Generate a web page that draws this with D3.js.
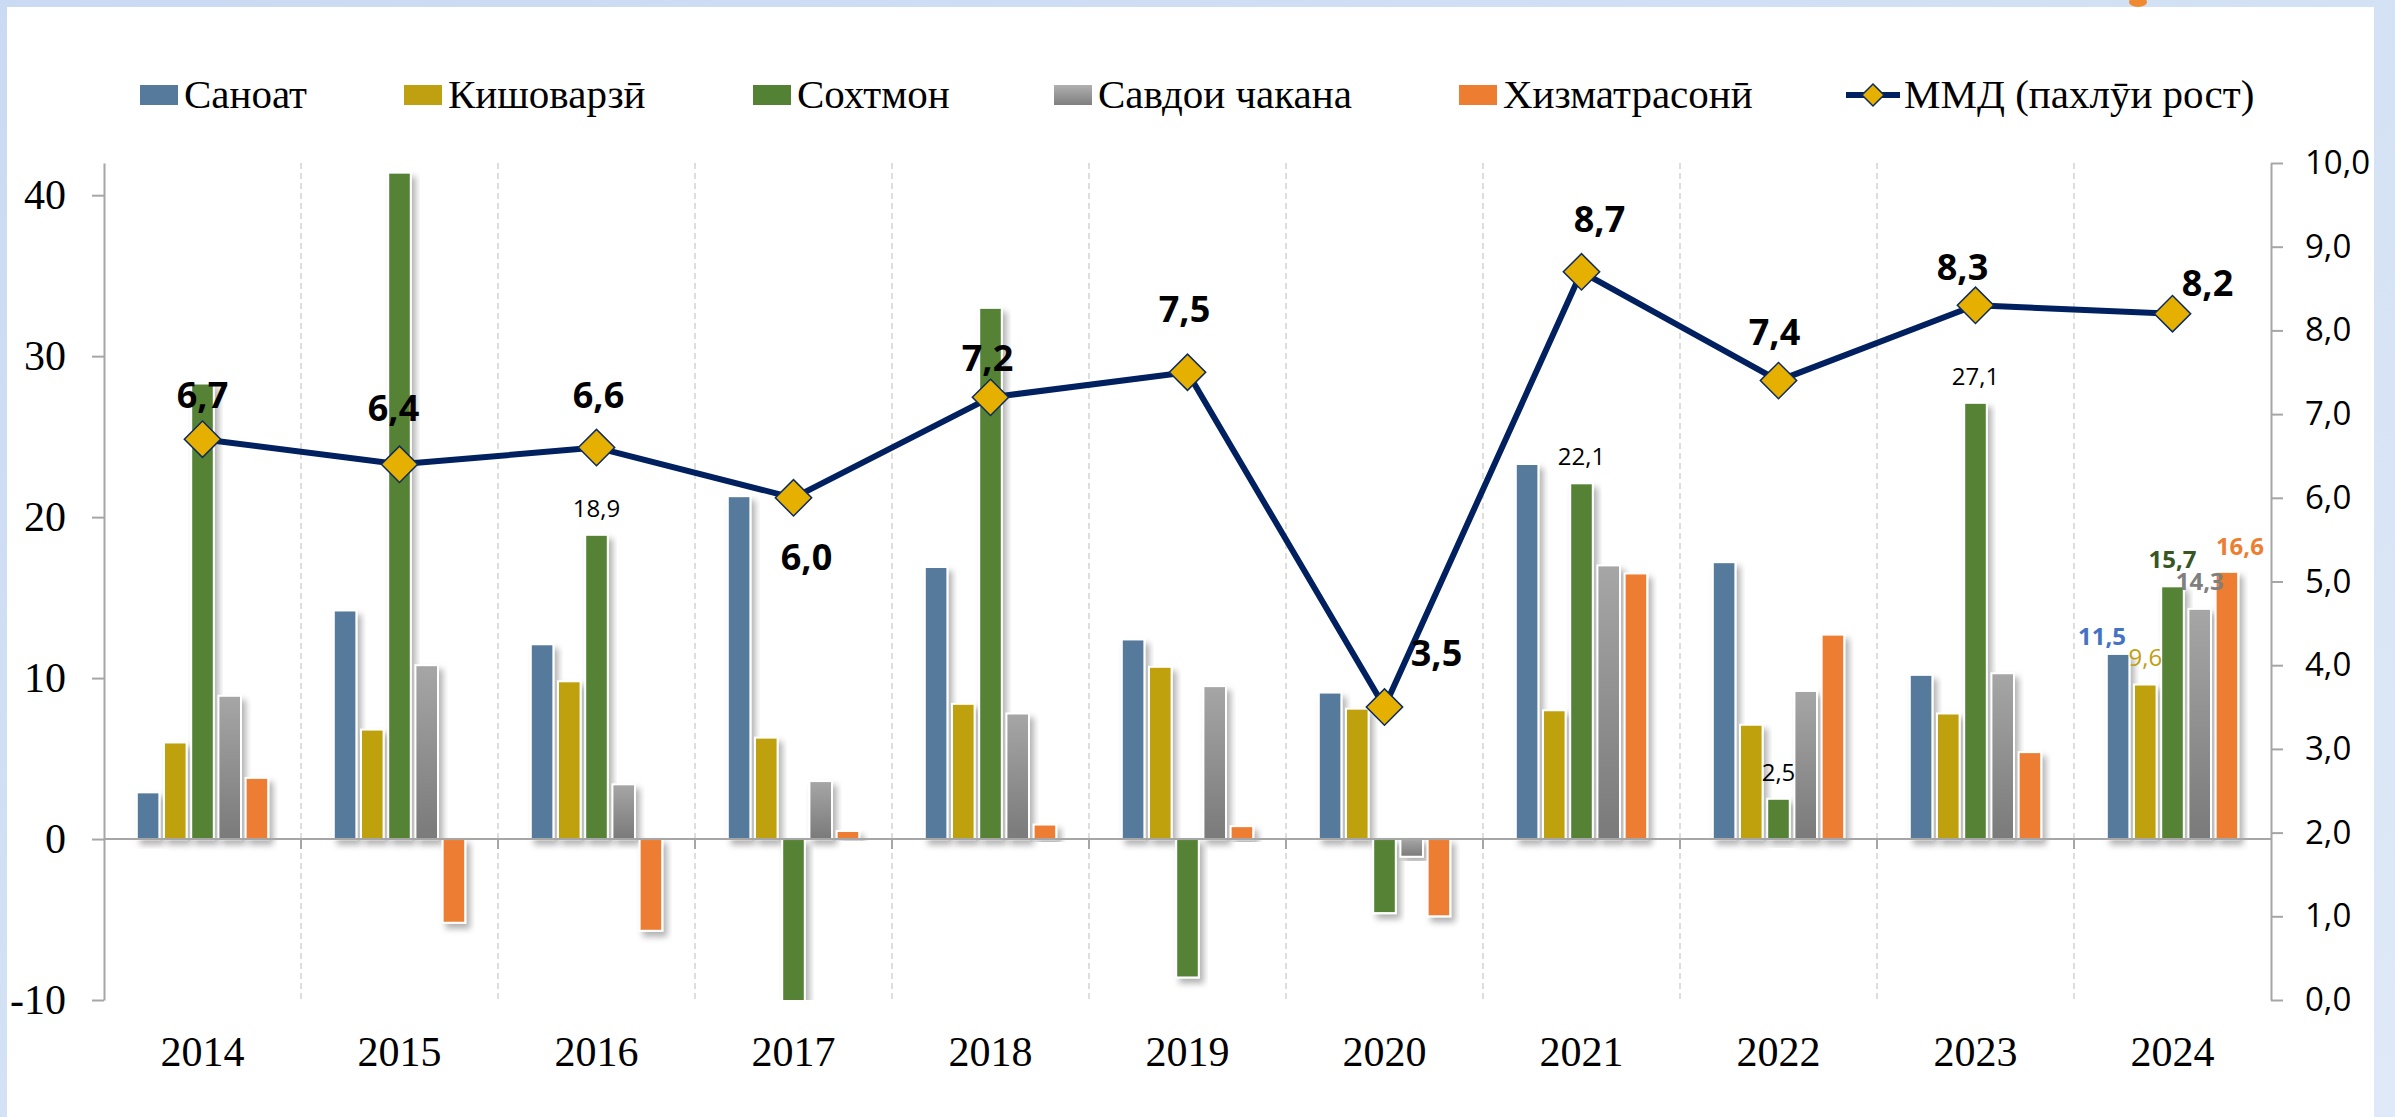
<!DOCTYPE html>
<html>
<head>
<meta charset="utf-8">
<script src="https://cdn.jsdelivr.net/npm/d3@7"></script>
<style>
  body { margin: 0; background: #fff; overflow: hidden; }
</style>
</head>
<body>
<svg id="chart" width="2395" height="1117"></svg>
<script>
// ---- data ----
let years = ["2014", "2015", "2016", "2017", "2018", "2019", "2020", "2021", "2022", "2023", "2024"];
let sanoat     = [2.9, 14.2, 12.1, 21.3, 16.9, 12.4, 9.1, 23.3, 17.2, 10.2, 11.5];
let kishovarzi = [6.0, 6.8, 9.8, 6.3, 8.4, 10.7, 8.1, 8.0, 7.1, 7.8, 9.6];
let sokhtmon   = [28.3, 41.4, 18.9, -10.2, 33.0, -8.6, -4.6, 22.1, 2.5, 27.1, 15.7];
let savdo      = [8.9, 10.8, 3.4, 3.6, 7.8, 9.5, -1.1, 17.0, 9.2, 10.3, 14.3];
let khizmat    = [3.8, -5.2, -5.7, 0.5, 0.9, 0.8, -4.8, 16.5, 12.7, 5.4, 16.6];
let mmd        = [6.7, 6.4, 6.6, 6.0, 7.2, 7.5, 3.5, 8.7, 7.4, 8.3, 8.2];

let seriesNames = ["Саноат", "Кишоварзӣ", "Сохтмон", "Савдои чакана", "Хизматрасонӣ"];
let lineName = "ММД (пахлӯи рост)";
let leftTicks = [-10, 0, 10, 20, 30, 40];
let rightTicks = [0, 1, 2, 3, 4, 5, 6, 7, 8, 9, 10];

// ---- styling / layout ----
let seriesValues = [sanoat, kishovarzi, sokhtmon, savdo, khizmat];
let seriesColors = ["#557a9b", "#bfa010", "#548235", "url(#grayGrad)", "#ed7d31"];
let legendColors = ["#557a9b", "#bfa010", "#548235", "url(#grayGradL)", "#ed7d31"];
let legendTextX = [184, 448, 797, 1098, 1503, 1904];

// manual label nudges (dx, dy from marker centre / baseline)
let mmdLabelDx = [0, -6, 2, 13, -3, -3, 52, 18, -4, -13, 35];
let mmdLabelDy = [-31, -43, -40, 72, -26, -50, -41, -40, -36, -25, -18];

// which bar labels are shown
let barLabels = [
  { s: 2, i: 2, color: "#000", weight: 400, dx: 0, dy: -18 },
  { s: 2, i: 7, color: "#000", weight: 400, dx: 0, dy: -18 },
  { s: 2, i: 8, color: "#000", weight: 400, dx: 0, dy: -18 },
  { s: 2, i: 9, color: "#000", weight: 400, dx: 0, dy: -18 },
  { s: 0, i: 10, color: "#4472c4", weight: 700, dx: -16, dy: -9 },
  { s: 1, i: 10, color: "#bfa010", weight: 400, dx: 0, dy: -19 },
  { s: 2, i: 10, color: "#375623", weight: 700, dx: 0, dy: -18 },
  { s: 3, i: 10, color: "#7f7f7f", weight: 700, dx: 0, dy: -19 },
  { s: 4, i: 10, color: "#ed7d31", weight: 700, dx: 13, dy: -17 }
];

let plot = { left: 104, right: 2271, top: 163, bottom: 1000 };
let serif = "'Times New Roman', 'Liberation Serif', serif";
let sans = "'Open Sans', 'Noto Sans', sans-serif";

let svg = d3.select("#chart");
let defs = svg.append("defs");

let bg = defs.append("linearGradient").attr("id", "bgGrad")
  .attr("x1", 0).attr("y1", 0).attr("x2", 1).attr("y2", 1);
bg.append("stop").attr("offset", "0%").attr("stop-color", "#c9daf2");
bg.append("stop").attr("offset", "100%").attr("stop-color", "#dfe9f7");

[["grayGrad", "#a6a6a6", "#7a7a7a"], ["grayGradL", "#b0b0b0", "#7f7f7f"]].forEach(g => {
  let lg = defs.append("linearGradient").attr("id", g[0])
    .attr("x1", 0).attr("y1", 0).attr("x2", 0).attr("y2", 1);
  lg.append("stop").attr("offset", "0%").attr("stop-color", g[1]);
  lg.append("stop").attr("offset", "100%").attr("stop-color", g[2]);
});

let shadow = defs.append("filter").attr("id", "shadow")
  .attr("x", "-30%").attr("y", "-10%").attr("width", "170%").attr("height", "130%");
shadow.append("feDropShadow").attr("dx", 4).attr("dy", 5).attr("stdDeviation", 3)
  .attr("flood-color", "#000").attr("flood-opacity", 0.3);

defs.append("clipPath").attr("id", "plotClip").append("rect")
  .attr("x", plot.left - 20).attr("y", plot.top - 40)
  .attr("width", plot.right - plot.left + 40).attr("height", plot.bottom - plot.top + 40);

// slide background + white chart area
svg.append("rect").attr("width", 2395).attr("height", 1117).attr("fill", "url(#bgGrad)");
svg.append("rect").attr("x", 7).attr("y", 7).attr("width", 2367).attr("height", 1110).attr("fill", "#fff");
svg.append("ellipse").attr("cx", 2138).attr("cy", 2).attr("rx", 9).attr("ry", 5).attr("fill", "#f08a30");

// ---- scales ----
let x0 = d3.scaleBand().domain(years).range([plot.left, plot.right]).paddingInner(0).paddingOuter(0);
let groupW = x0.bandwidth() * 0.667;
let x1 = d3.scaleBand().domain(d3.range(5)).range([0, groupW]).paddingInner(0.17);
let groupOff = (x0.bandwidth() - groupW) / 2;
let yLeft = d3.scaleLinear().domain([-10, 42]).range([plot.bottom, plot.top]);
let yRight = d3.scaleLinear().domain([0, 10]).range([plot.bottom, plot.top]);

// vertical dashed gridlines at category boundaries
svg.append("g").selectAll("line")
  .data(years.slice(1))
  .enter().append("line")
  .attr("x1", d => x0(d)).attr("x2", d => x0(d))
  .attr("y1", plot.top).attr("y2", plot.bottom)
  .attr("stroke", "#d4d4d4").attr("stroke-width", 1.5).attr("stroke-dasharray", "6,4");

// ---- axes ----
let leftAxis = svg.append("g")
  .attr("transform", `translate(${plot.left},0)`)
  .call(d3.axisLeft(yLeft).tickValues(leftTicks).tickSize(12).tickSizeOuter(0)
    .tickPadding(26).tickFormat(d => String(d)));
leftAxis.selectAll("path, line").attr("stroke", "#a6a6a6").attr("stroke-width", 2);
leftAxis.selectAll("text").attr("font-family", serif).attr("font-size", 42).attr("fill", "#000");

let rightAxis = svg.append("g")
  .attr("transform", `translate(${plot.right},0)`)
  .call(d3.axisRight(yRight).tickValues(rightTicks).tickSize(12).tickSizeOuter(0)
    .tickPadding(22).tickFormat(d => d.toFixed(1).replace(".", ",")));
rightAxis.selectAll("path, line").attr("stroke", "#a6a6a6").attr("stroke-width", 2);
rightAxis.selectAll("text").attr("font-family", sans).attr("font-size", 33).attr("fill", "#000");

let bottomAxis = svg.append("g")
  .attr("transform", `translate(0,${plot.bottom})`)
  .call(d3.axisBottom(x0).tickSize(0).tickPadding(36));
bottomAxis.select(".domain").remove();
bottomAxis.selectAll("text").attr("font-family", serif).attr("font-size", 42).attr("fill", "#000");

// ---- bars ----
let barLayer = svg.append("g").attr("clip-path", "url(#plotClip)");
let groups = barLayer.selectAll("g.year")
  .data(years)
  .enter().append("g")
  .attr("class", "year")
  .attr("transform", d => `translate(${x0(d) + groupOff},0)`);

groups.selectAll("rect")
  .data((yr, i) => seriesValues.map((vals, s) => ({ s: s, v: vals[i] })))
  .enter().append("rect")
  .attr("x", d => x1(d.s))
  .attr("width", x1.bandwidth())
  .attr("y", d => yLeft(Math.max(0, d.v)))
  .attr("height", d => Math.abs(yLeft(d.v) - yLeft(0)))
  .attr("fill", d => seriesColors[d.s])
  .attr("stroke", "#fff")
  .attr("stroke-width", 2)
  .attr("filter", "url(#shadow)");

// zero line + little category ticks at it
svg.append("line")
  .attr("x1", plot.left).attr("x2", plot.right)
  .attr("y1", yLeft(0)).attr("y2", yLeft(0))
  .attr("stroke", "#a6a6a6").attr("stroke-width", 2);
svg.append("g").selectAll("line")
  .data(years.slice(1))
  .enter().append("line")
  .attr("x1", d => x0(d)).attr("x2", d => x0(d))
  .attr("y1", yLeft(0)).attr("y2", yLeft(0) + 10)
  .attr("stroke", "#a6a6a6").attr("stroke-width", 2);

// bar data labels
svg.append("g").selectAll("text")
  .data(barLabels)
  .enter().append("text")
  .attr("x", d => x0(years[d.i]) + groupOff + x1(d.s) + x1.bandwidth() / 2 + d.dx)
  .attr("y", d => yLeft(seriesValues[d.s][d.i]) + d.dy)
  .attr("text-anchor", "middle")
  .attr("font-family", sans)
  .attr("font-size", 24)
  .attr("font-weight", d => d.weight)
  .attr("fill", d => d.color)
  .text(d => seriesValues[d.s][d.i].toFixed(1).replace(".", ","));

// ---- ММД line ----
let cx = (d, i) => x0(years[i]) + x0.bandwidth() / 2;
let line = d3.line().x((d, i) => cx(d, i)).y(d => yRight(d));
svg.append("path")
  .datum(mmd)
  .attr("d", line)
  .attr("fill", "none")
  .attr("stroke", "#002060")
  .attr("stroke-width", 6)
  .attr("stroke-linejoin", "round");

let diamond = d3.symbol().type(d3.symbolSquare).size(660);
svg.append("g").selectAll("path")
  .data(mmd)
  .enter().append("path")
  .attr("d", diamond)
  .attr("transform", (d, i) => `translate(${cx(d, i)},${yRight(d)}) rotate(45)`)
  .attr("fill", "#e6b000")
  .attr("stroke", "#0b2a5e")
  .attr("stroke-width", 1.5);

svg.append("g").selectAll("text")
  .data(mmd)
  .enter().append("text")
  .attr("x", (d, i) => cx(d, i) + mmdLabelDx[i])
  .attr("y", (d, i) => yRight(d) + mmdLabelDy[i])
  .attr("text-anchor", "middle")
  .attr("font-family", sans)
  .attr("font-size", 36)
  .attr("font-weight", 700)
  .attr("fill", "#000")
  .text(d => d.toFixed(1).replace(".", ","));

// ---- legend ----
let legend = svg.append("g");
let legendY = 95;
seriesNames.forEach((name, s) => {
  legend.append("rect")
    .attr("x", legendTextX[s] - 44).attr("y", legendY - 10)
    .attr("width", 38).attr("height", 20)
    .attr("fill", legendColors[s]);
  legend.append("text")
    .attr("x", legendTextX[s]).attr("y", legendY + 13)
    .attr("font-family", serif).attr("font-size", 41).attr("fill", "#000")
    .text(name);
});
let lx = legendTextX[5];
legend.append("line")
  .attr("x1", lx - 58).attr("x2", lx - 4)
  .attr("y1", legendY).attr("y2", legendY)
  .attr("stroke", "#002060").attr("stroke-width", 6);
legend.append("path")
  .attr("d", "M0,-11 L11,0 L0,11 L-11,0 Z")
  .attr("transform", `translate(${lx - 31},${legendY})`)
  .attr("fill", "#e6b000").attr("stroke", "#0b2a5e").attr("stroke-width", 1.5);
legend.append("text")
  .attr("x", lx).attr("y", legendY + 13)
  .attr("font-family", serif).attr("font-size", 41).attr("fill", "#000")
  .text(lineName);
</script>
</body>
</html>
